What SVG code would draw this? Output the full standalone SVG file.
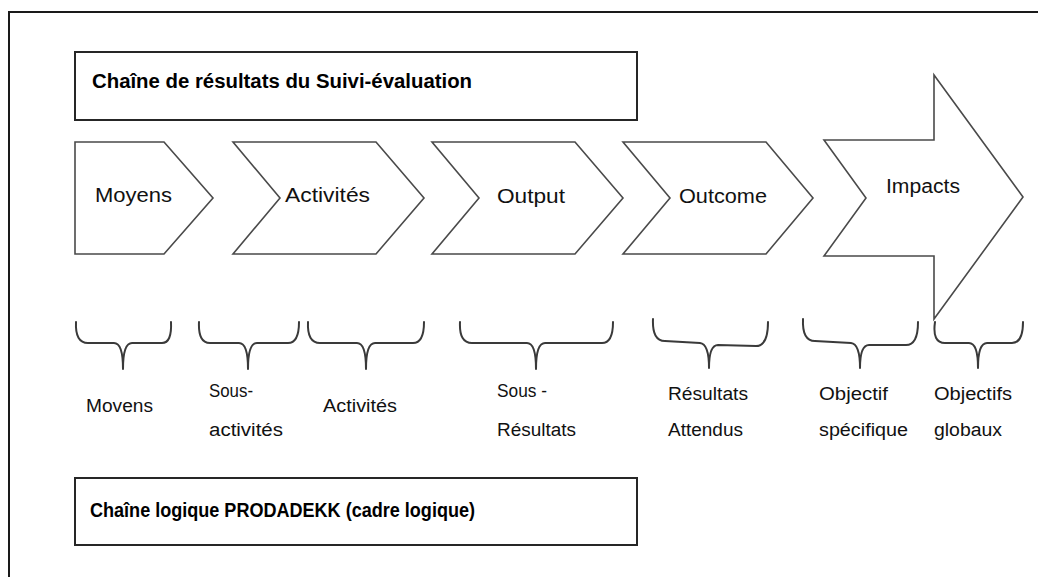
<svg xmlns="http://www.w3.org/2000/svg" width="1038" height="577" viewBox="0 0 1038 577">
<style>
.frame{fill:none;stroke:#1a1a1a;stroke-width:2}
.box{fill:#fff;stroke:#262626;stroke-width:2}
.shape{fill:#fff;stroke:#4a4a4a;stroke-width:1.6;stroke-linejoin:miter}
.brace{fill:none;stroke:#3a3a3a;stroke-width:2;stroke-linecap:round;stroke-linejoin:round}
.title{font-family:"Liberation Sans",Arial,sans-serif;font-weight:bold;font-size:20px;fill:#000}
.lbl{font-family:"Liberation Sans",Arial,sans-serif;font-size:20px;fill:#111}
.sub{font-family:"Liberation Sans",Arial,sans-serif;font-size:18px;fill:#111}
</style>
<rect width="1038" height="577" fill="#fff"/>
<path class="frame" d="M9,577 V12 H1038"/>

<g id="title-top">
<rect class="box" x="75" y="52" width="562" height="68"/>
<text class="title" x="92" y="88" textLength="380" lengthAdjust="spacingAndGlyphs">Chaîne de résultats du Suivi-évaluation</text>
</g>

<g id="moyens">
<polygon class="shape" points="75,142 164,142 213,198 164,254 75,254"/>
<text class="lbl" x="95" y="202" textLength="77" lengthAdjust="spacingAndGlyphs">Moyens</text>
</g>
<g id="activites">
<polygon class="shape" points="233,142 376,142 424,198 376,254 233,254 280,198"/>
<text class="lbl" x="285" y="202" textLength="85" lengthAdjust="spacingAndGlyphs">Activités</text>
</g>
<g id="output">
<polygon class="shape" points="432,142 575,142 623,198 575,254 432,254 479,198"/>
<text class="lbl" x="497" y="203" textLength="68" lengthAdjust="spacingAndGlyphs">Output</text>
</g>
<g id="outcome">
<polygon class="shape" points="623,142 766,142 813,198 766,254 623,254 670,198"/>
<text class="lbl" x="679" y="203" textLength="88" lengthAdjust="spacingAndGlyphs">Outcome</text>
</g>
<g id="impacts">
<polygon class="shape" points="824,140 934,140 934,75 1023,197 934,319 934,256 824,256 866,198"/>
<text class="lbl" x="886" y="193" textLength="74" lengthAdjust="spacingAndGlyphs">Impacts</text>
</g>

<g id="braces">
<path class="brace" d="M76,322 Q75,343 88,343 L114,343 Q123,343 123,369 Q123,343 132,343 L162,343 Q172,343 171,322"/>
<path class="brace" d="M199,322 Q198,343 210,343 L239,343 Q248,343 248,369 Q248,343 257,343 L288,343 Q299,343 299,322"/>
<path class="brace" d="M308,322 Q307,343 320,343 L357,343 Q366,343 366,369 Q366,343 375,343 L413,343 Q424,343 424,322"/>
<path class="brace" d="M460,322 Q459,343 472,343 L527,343 Q536,343 536,369 Q536,343 545,343 L602,343 Q613,343 613,322"/>
<path class="brace" d="M653,319 Q652,341 665,341 L700,343 Q709,344 709,368 Q709,345 718,345 L756,346 Q768,346 768,322"/>
<path class="brace" d="M803,319 Q802,341 815,341 L851,343 Q860,344 860,368 Q860,345 869,345 L906,345 Q918,345 918,322"/>
<path class="brace" d="M935,322 Q932,343 945,343 L969,343 Q978,343 978,368 Q978,343 987,343 L1012,343 Q1023,343 1023,322"/>
</g>

<g id="sublabels">
<text class="sub" x="86" y="412" textLength="67" lengthAdjust="spacingAndGlyphs">Movens</text>
<text class="sub" x="209" y="397" textLength="44" lengthAdjust="spacingAndGlyphs">Sous-</text>
<text class="sub" x="209" y="436" textLength="74" lengthAdjust="spacingAndGlyphs">activités</text>
<text class="sub" x="323" y="412" textLength="74" lengthAdjust="spacingAndGlyphs">Activités</text>
<text class="sub" x="497" y="397" textLength="50" lengthAdjust="spacingAndGlyphs">Sous -</text>
<text class="sub" x="497" y="436" textLength="79" lengthAdjust="spacingAndGlyphs">Résultats</text>
<text class="sub" x="668" y="400" textLength="80" lengthAdjust="spacingAndGlyphs">Résultats</text>
<text class="sub" x="668" y="436" textLength="75" lengthAdjust="spacingAndGlyphs">Attendus</text>
<text class="sub" x="819" y="400" textLength="69" lengthAdjust="spacingAndGlyphs">Objectif</text>
<text class="sub" x="819" y="436" textLength="89" lengthAdjust="spacingAndGlyphs">spécifique</text>
<text class="sub" x="934" y="400" textLength="78" lengthAdjust="spacingAndGlyphs">Objectifs</text>
<text class="sub" x="934" y="436" textLength="68" lengthAdjust="spacingAndGlyphs">globaux</text>
</g>

<g id="title-bottom">
<rect class="box" x="75" y="478" width="562" height="67"/>
<text class="title" x="90" y="517" textLength="385" lengthAdjust="spacingAndGlyphs">Chaîne logique PRODADEKK (cadre logique)</text>
</g>
</svg>
